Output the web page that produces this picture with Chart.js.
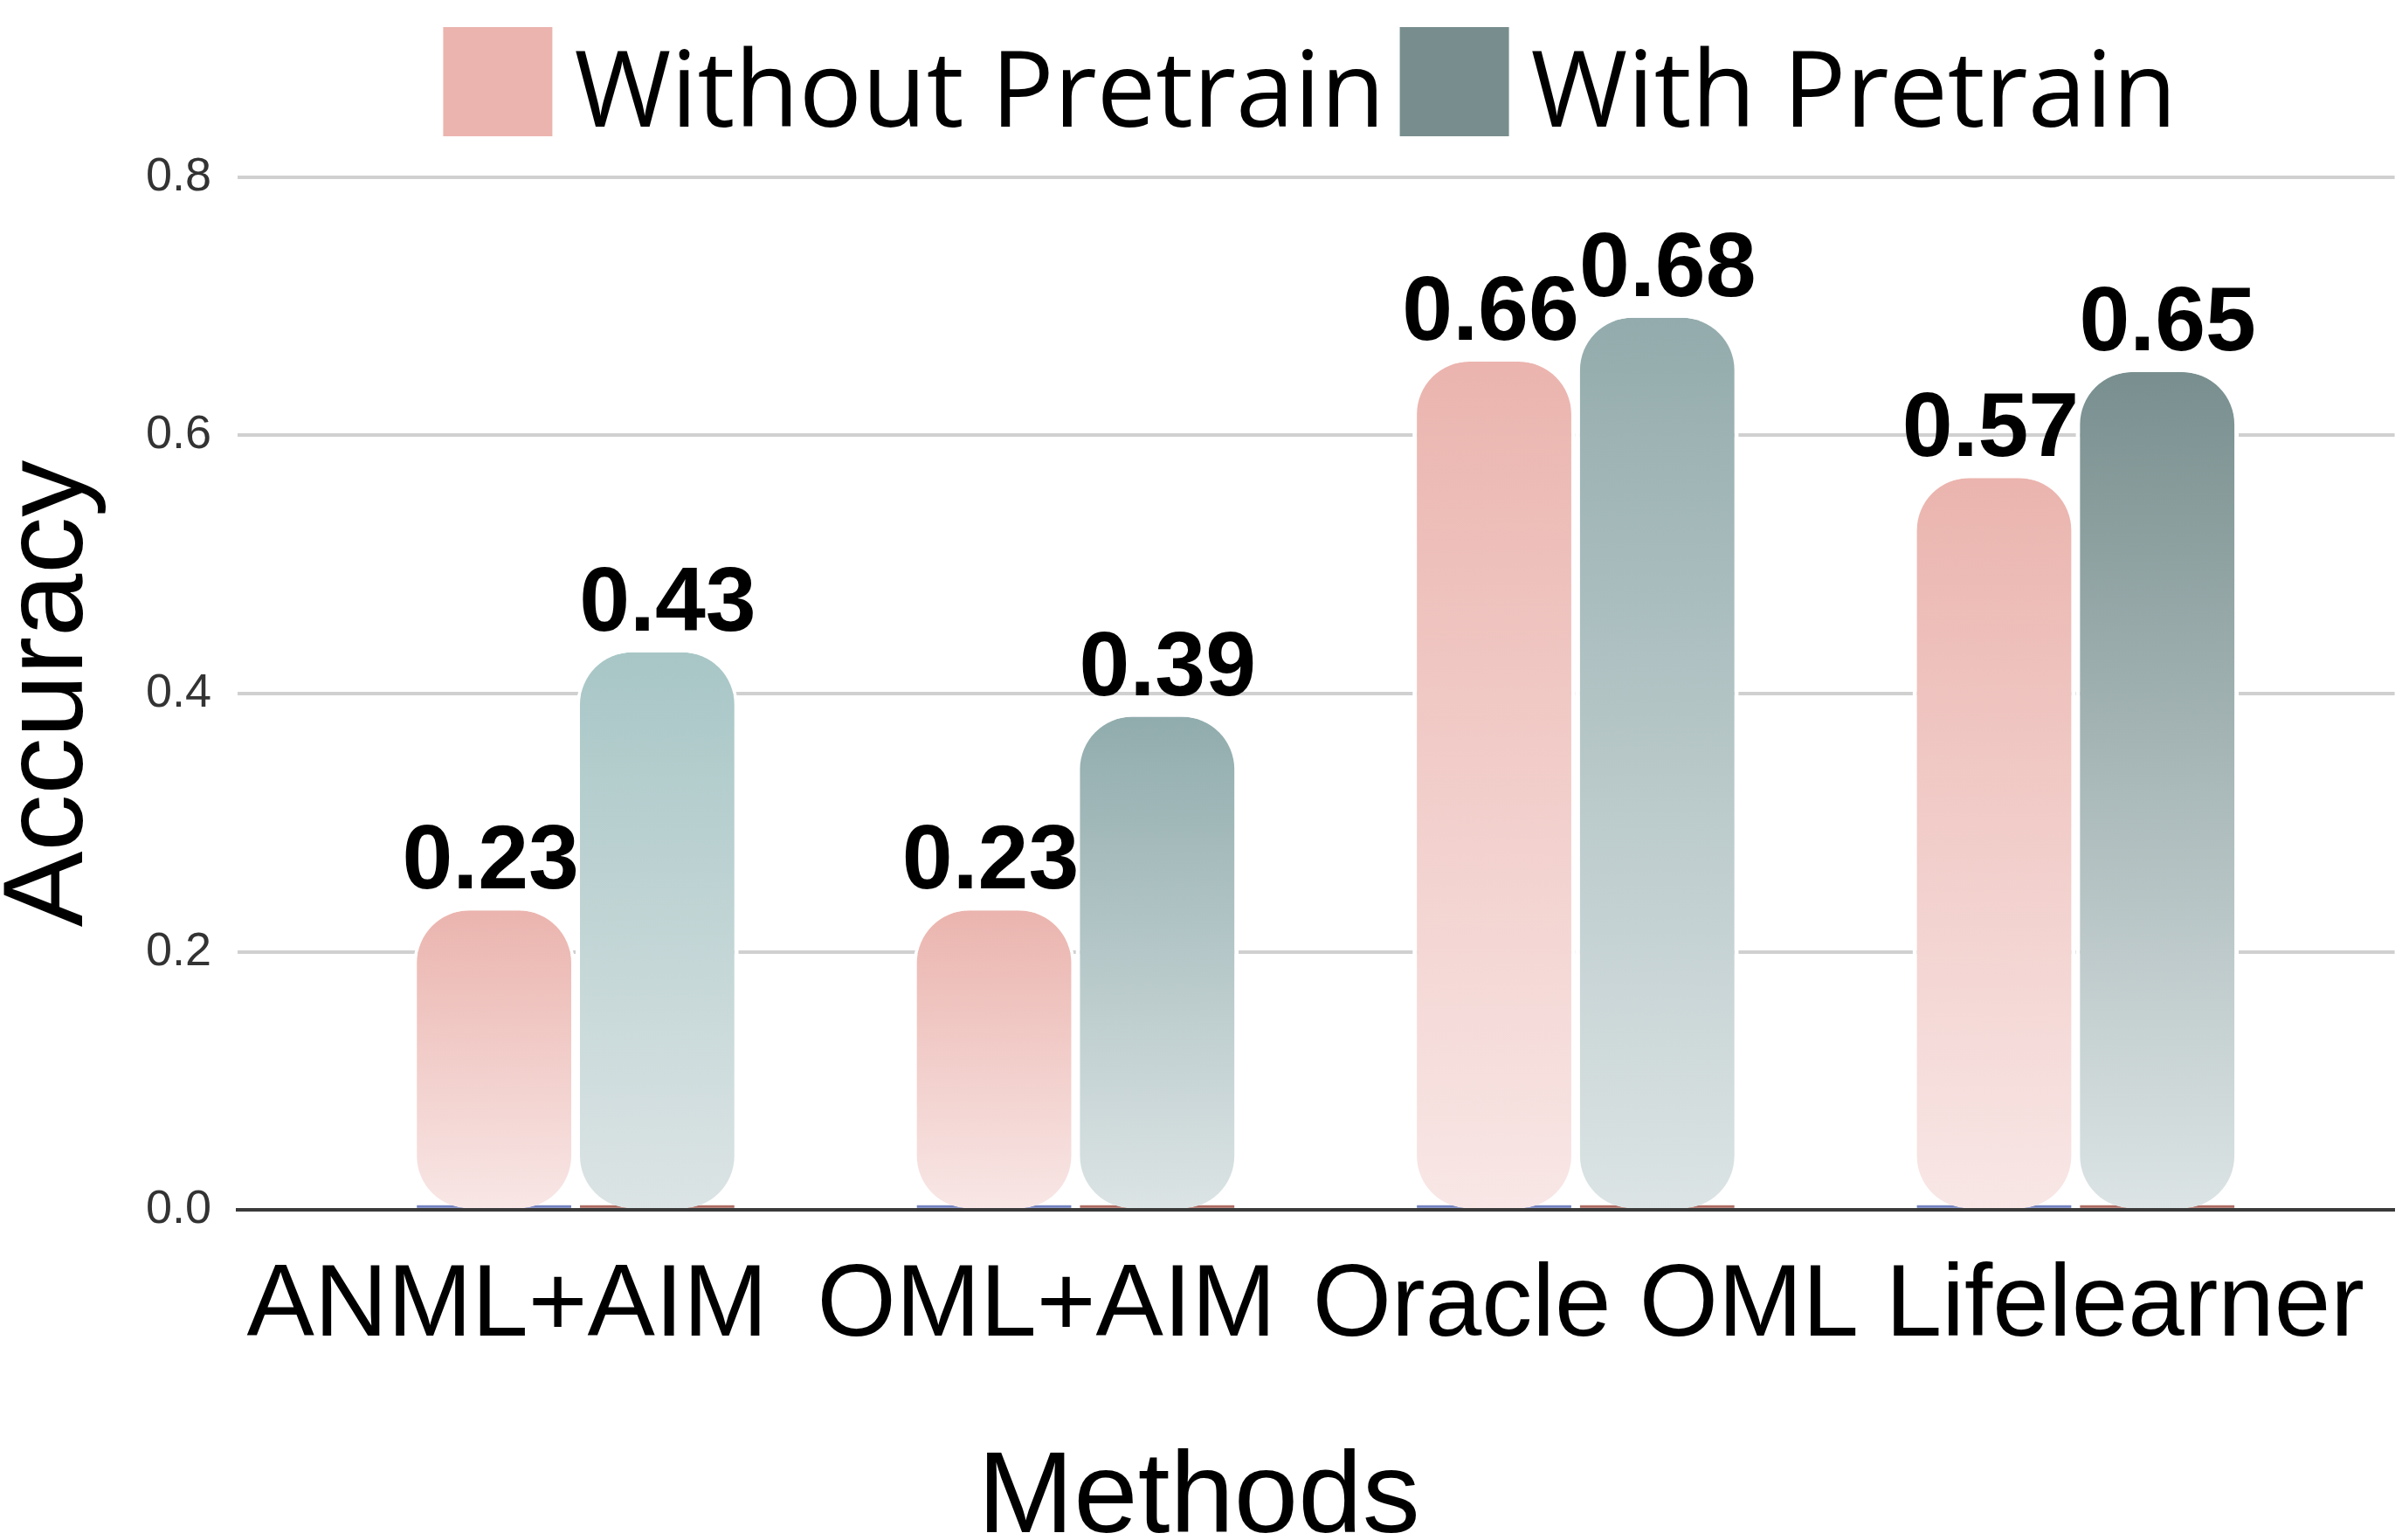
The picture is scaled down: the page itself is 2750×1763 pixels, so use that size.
<!DOCTYPE html>
<html>
<head>
<meta charset="utf-8">
<script src="https://cdn.jsdelivr.net/npm/chart.js@4.4.0/dist/chart.umd.min.js"></script>
<style>
  html, body { margin: 0; padding: 0; background: #ffffff; }
  #wrap { width: 2750px; height: 1763px; position: relative; }
</style>
</head>
<body>
<div id="wrap"><canvas id="chart"></canvas></div>
<script>
// ---- data ----
const categories = ['ANML+AIM', 'OML+AIM', 'Oracle OML', 'Lifelearner'];
const seriesNames = ['Without Pretrain', 'With Pretrain'];
const withoutPretrain = [0.232, 0.232, 0.657, 0.567];
const withPretrain = [0.432, 0.382, 0.691, 0.649];
const withoutLabels = ['0.23', '0.23', '0.66', '0.57'];
const withLabels = ['0.43', '0.39', '0.68', '0.65'];
const yTicks = [0, 0.2, 0.4, 0.6, 0.8];
const xTitle = 'Methods';
const yTitle = 'Accuracy';

// ---- styles ----
const FONT = '"Liberation Sans", Arial, sans-serif';
const LEGEND_FONT = '"Open Sans", "Noto Sans", sans-serif';
const legendColors = ['#ebb4ae', '#788e8e'];
const pinkTop = '#ebb4ae', pinkBottom = '#f8e7e6';
const greenTops = ['#a8c6c6', '#91acad', '#93abac', '#798f8f'];
const greenBottom = '#dce4e5';
const stripColors = ['#7282c0', '#ad6b62'];
const valueLabelSets = [withoutLabels, withLabels];
const labelShift = [-4, 12];
const BAR_MIN = -0.676, BAR_MAX = 3.638;

function gradientFor(ctx, topColor, bottomColor) {
  const chart = ctx.chart;
  if (!chart.chartArea || ctx.type !== 'data' || !ctx.parsed) return topColor;
  const y = chart.scales.y;
  const yTop = y.getPixelForValue(ctx.parsed.y);
  const yBot = y.getPixelForValue(0);
  const g = chart.ctx.createLinearGradient(0, yTop, 0, yBot);
  g.addColorStop(0, topColor);
  g.addColorStop(1, bottomColor);
  return g;
}

const toPoints = arr => arr.map((v, i) => ({ x: i, y: v }));

const baseStripPlugin = {
  id: 'baseStrips',
  beforeDatasetsDraw(chart) {
    const c = chart.ctx;
    c.save();
    chart.data.datasets.forEach((ds, di) => {
      const meta = chart.getDatasetMeta(di);
      c.fillStyle = stripColors[di];
      meta.data.forEach(el => {
        c.fillRect(el.x - el.width / 2 + 5, el.base - 3.5, el.width - 10, 3);
      });
    });
    c.restore();
  }
};

const valueLabelPlugin = {
  id: 'valueLabels',
  afterDatasetsDraw(chart) {
    const c = chart.ctx;
    c.save();
    c.font = 'bold 104px ' + FONT;
    c.fillStyle = '#000000';
    c.textAlign = 'center';
    c.textBaseline = 'alphabetic';
    chart.data.datasets.forEach((ds, di) => {
      const meta = chart.getDatasetMeta(di);
      meta.data.forEach((el, i) => {
        c.fillText(valueLabelSets[di][i], el.x + labelShift[di], el.y - 25);
      });
    });
    c.restore();
  }
};

const customLegendPlugin = {
  id: 'customLegend',
  afterDraw(chart) {
    const c = chart.ctx;
    const area = chart.chartArea;
    c.save();
    c.font = '120px ' + LEGEND_FONT;
    c.textBaseline = 'alphabetic';
    c.textAlign = 'left';
    const box = 125, gapText = 25, gapItem = 17;
    const widths = seriesNames.map(n => c.measureText(n).width);
    let total = 0;
    widths.forEach((w, i) => { total += box + gapText + w + (i < widths.length - 1 ? gapItem : 0); });
    let x = (area.left + area.right) / 2 - 7 - total / 2;
    seriesNames.forEach((n, i) => {
      c.fillStyle = legendColors[i];
      c.fillRect(x, 31, box, box);
      c.fillStyle = '#000000';
      c.fillText(n, x + box + gapText, 145);
      x += box + gapText + widths[i] + gapItem;
    });
    c.restore();
  }
};

const barStyle = {
  xAxisID: 'xb',
  borderColor: '#ffffff',
  borderWidth: { top: 0, bottom: 0, left: 5, right: 5 },
  borderSkipped: false,
  borderRadius: { topLeft: 65, topRight: 65, bottomLeft: 65, bottomRight: 65 },
  categoryPercentage: 0.6524,
  barPercentage: 1.0
};

const chart = new Chart(document.getElementById('chart'), {
  type: 'bar',
  data: {
    labels: categories,
    datasets: [
      Object.assign({
        label: seriesNames[0],
        data: toPoints(withoutPretrain),
        backgroundColor: ctx => gradientFor(ctx, pinkTop, pinkBottom)
      }, barStyle),
      Object.assign({
        label: seriesNames[1],
        data: toPoints(withPretrain),
        backgroundColor: ctx => gradientFor(ctx, greenTops[ctx.dataIndex] || greenTops[0], greenBottom)
      }, barStyle)
    ]
  },
  options: {
    responsive: true,
    maintainAspectRatio: false,
    devicePixelRatio: 1,
    animation: false,
    layout: { padding: { top: 202.7, right: 5, left: 0, bottom: 0 } },
    plugins: {
      legend: { display: false },
      tooltip: { enabled: false },
      title: {
        display: true,
        position: 'bottom',
        text: xTitle,
        color: '#000000',
        font: { family: FONT, size: 132, weight: 'normal', lineHeight: 0.6 },
        padding: { top: 0, bottom: 6 }
      }
    },
    scales: {
      xb: {
        type: 'linear',
        display: false,
        offset: false,
        bounds: 'data',
        grace: 0,
        min: BAR_MIN,
        max: BAR_MAX,
        grid: { offset: false },
        afterDataLimits(s) { s.min = BAR_MIN; s.max = BAR_MAX; },
        afterBuildTicks(s) { s.ticks = categories.map((c, i) => ({ value: i })); s.min = BAR_MIN; s.max = BAR_MAX; }
      },
      x: {
        type: 'category',
        position: 'bottom',
        offset: true,
        grid: { display: false, drawTicks: false },
        border: { display: true, color: '#3a3a3a', width: 4, z: 1 },
        ticks: {
          color: '#000000',
          font: { family: FONT, size: 116, lineHeight: 1.2 },
          padding: 42,
          maxRotation: 0,
          autoSkip: false
        },
        afterFit(s) { s.height = 292.5; }
      },
      y: {
        type: 'linear',
        min: 0,
        max: 0.8,
        afterBuildTicks(s) { s.ticks = yTicks.map(v => ({ value: v })); },
        ticks: {
          color: '#333333',
          font: { family: FONT, size: 54 },
          padding: 30,
          callback: v => Number(v).toFixed(1)
        },
        grid: { color: '#d0d0d0', lineWidth: 4, drawTicks: false },
        border: { display: false },
        title: {
          display: true,
          text: yTitle,
          color: '#000000',
          font: { family: FONT, size: 130, lineHeight: 0.6 },
          padding: { top: 19, bottom: 0 }
        },
        afterFit(s) { s.width = 272; }
      }
    }
  },
  plugins: [baseStripPlugin, valueLabelPlugin, customLegendPlugin]
});
</script>
</body>
</html>
